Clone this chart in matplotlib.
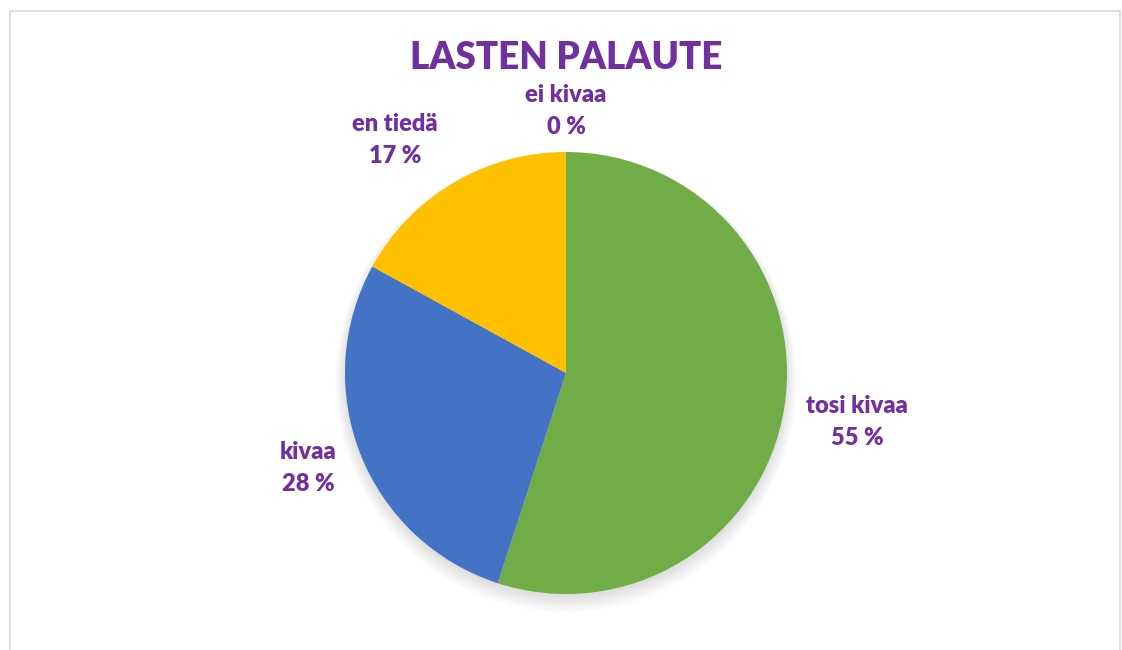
import matplotlib.pyplot as plt
from matplotlib.patches import Rectangle, Circle
import numpy as np

labels = ['tosi kivaa', 'kivaa', 'en tiedä', 'ei kivaa']
values = [55, 28, 17, 0]
colors = ['#70AD47', '#4472C4', '#FFC000', '#ED7D31']
title = 'LASTEN PALAUTE'

purple = '#7030A0'
plt.rcParams['font.family'] = ['Lato', 'DejaVu Sans']

W, H, dpi = 1122, 650, 100
fig = plt.figure(figsize=(W / dpi, H / dpi), dpi=dpi, facecolor='white')

# chart border (bottom edge is cut off in the reference)
fig.patches.append(Rectangle((10 / W, -0.1), 1110 / W, (H - 11) / H + 0.1,
                             transform=fig.transFigure, fill=False,
                             edgecolor='#D9D9D9', lw=1.2))

# pie centre and radius in pixels
cx, cy, r = 566, 373, 221
ax = fig.add_axes([0, 0, 1, 1])

# soft shadow under the pie
for k in range(8):
    ax.add_patch(Circle((0, -0.012 - 0.004 * k), 1.0 + 0.006 * k,
                        color='black', alpha=0.016, lw=0, zorder=0))

wedges, _ = ax.pie(values, colors=colors, startangle=90, counterclock=False,
                   radius=1.0, wedgeprops=dict(linewidth=0))
for w in wedges:
    w.set_zorder(2)

# label anchors (in radius units, relative to pie centre)
label_pos = [(1.317, -0.222), (-1.167, -0.43), (-0.774, 1.054), (0.0, 1.186)]
for lab, v, (lx, ly) in zip(labels, values, label_pos):
    ax.text(lx, ly, f'{lab}\n{v} %', ha='center', va='center', color=purple,
            fontsize=17, fontweight='heavy', linespacing=1.55, zorder=3)

ax.set_xlim(-cx / r, (W - cx) / r)
ax.set_ylim((cy - H) / r, cy / r)
ax.set_aspect('auto')
ax.axis('off')

fig.text(566 / W, 1 - 58 / H, title, ha='center', va='center', color=purple,
         fontsize=26.5, fontweight='heavy')

fig.savefig('out.png', dpi=dpi, facecolor='white')
